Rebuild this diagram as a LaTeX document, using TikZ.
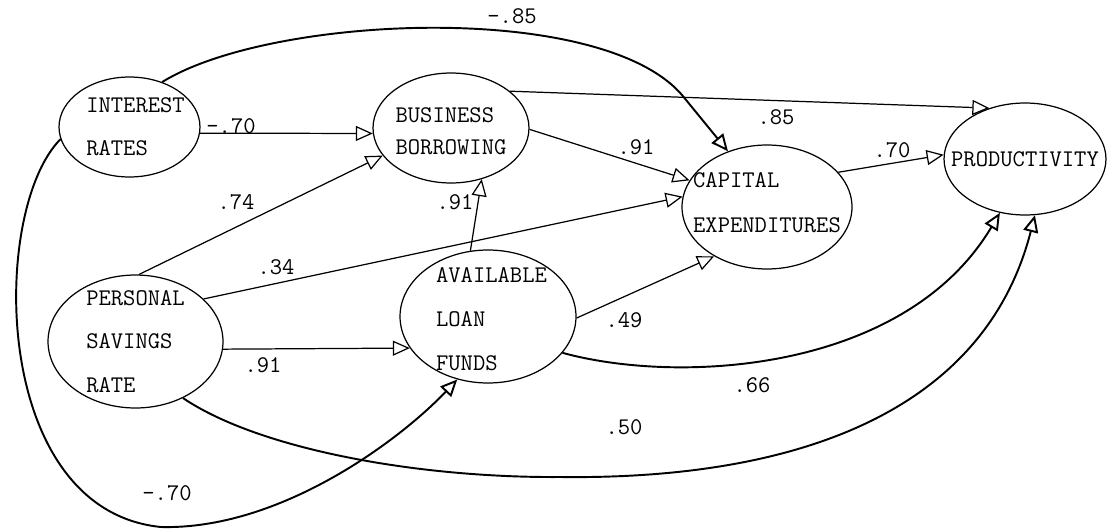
\documentclass[tikz,border=0pt]{standalone}
\usepackage{fontspec}
\usetikzlibrary{arrows.meta}
\usetikzlibrary{shapes.geometric}

\newcommand{\pathfont}[1]{\ttfamily\fontsize{13.6}{#1}\selectfont}

\begin{document}
\begin{tikzpicture}[x=0.02cm,y=-0.02cm,
		var/.style={draw,ellipse,line width=0.7pt,inner sep=0pt},
		vartext/.style={align=left,inner sep=0pt},
		coef/.style={font=\pathfont{16},inner sep=1pt},
		link/.style={line width=0.7pt,-{Triangle[open,length=3.4mm,width=3mm]}},
		curvelink/.style={link,line width=1.1pt}]
		\useasboundingbox (0,0) rectangle (1111,531);

		\node [var,minimum width=2.82cm,minimum height=2cm] (rates) at (129.5,127) {};
		\node [var,minimum width=3.12cm,minimum height=2.2cm] (borrow) at (451,128) {};
		\node [var,minimum width=3.4cm,minimum height=2.48cm] (capex) at (767,207) {};
		\node [var,minimum width=3.24cm,minimum height=2.24cm] (prod) at (1025,159) {};
		\node [var,minimum width=3.5cm,minimum height=2.66cm] (savings) at (135.5,341.5) {};
		\node [var,minimum width=3.52cm,minimum height=2.66cm] (funds) at (488,316.5) {};

		\node [vartext,font=\pathfont{24.5},xshift=0.12cm] (ratestext) at (rates) {INTEREST\\RATES};
		\node [vartext,font=\pathfont{18.2},yshift=-0.06cm] (borrowtext) at (borrow) {BUSINESS\\BORROWING};
		\node [vartext,font=\pathfont{25.6},yshift=0.09cm] (capextext) at (capex) {CAPITAL\\EXPENDITURES};
		\node [vartext,font=\pathfont{20}] (prodtext) at (prod) {PRODUCTIVITY};
		\node [vartext,font=\pathfont{24.8}] (savingstext) at (savings) {PERSONAL\\SAVINGS\\RATE};
		\node [vartext,font=\pathfont{25},xshift=0.07cm,yshift=-0.05cm] (fundstext) at (funds) {AVAILABLE\\LOAN\\FUNDS};

		\draw [link] (rates.-5) -- (borrow.184);
		\draw [curvelink] (rates.54) .. controls (270,15) and (600,0) .. (682,95) -- (capex.125);
		\draw [link] (borrow.32) -- (prod.125);
		\draw [link] (borrow.-1) -- (capex.161);
		\draw [link] (capex.26) -- (prod.177);
		\draw [link] (savings.87) -- (borrow.202);
		\draw [link] (savings.32) -- (capex.173);
		\draw [link] (funds.105) -- (borrow.-59);
		\draw [link] (savings.-5) -- (funds.202);
		\draw [link] (funds.-1) -- (capex.223);
		\draw [curvelink] (funds.-26) .. controls (680,385) and (905,372) .. (prod.245);
		\draw [curvelink] (savings.-50) .. controls (260,450) and (420,478) .. (560,477)
			.. controls (800,480) and (985,410) .. (prod.-80);
		\draw [curvelink] (rates.190) .. controls (-10,210) and (-10,510) .. (161,527)
			.. controls (280,530) and (400,440) .. (funds.244);

		\node [coef] (ratesborrow) at (231,126) {-.70};
		\node [coef] (ratescapex) at (512,16) {-.85};
		\node [coef] (borrowprod) at (776,117) {.85};
		\node [coef] (borrowcapex) at (636,147) {.91};
		\node [coef] (capexprod) at (892,150) {.70};
		\node [coef] (savingsborrow) at (236,202) {.74};
		\node [coef] (fundsborrow) at (455,202) {.91};
		\node [coef] (savingscapex) at (276,267) {.34};
		\node [coef] (savingsfunds) at (263,365) {.91};
		\node [coef] (fundscapex) at (624,320) {.49};
		\node [coef] (fundsprod) at (752,385) {.66};
		\node [coef] (savingsprod) at (624,427) {.50};
		\node [coef] (ratesfunds) at (167,493) {-.70};
	\end{tikzpicture}
\end{document}
